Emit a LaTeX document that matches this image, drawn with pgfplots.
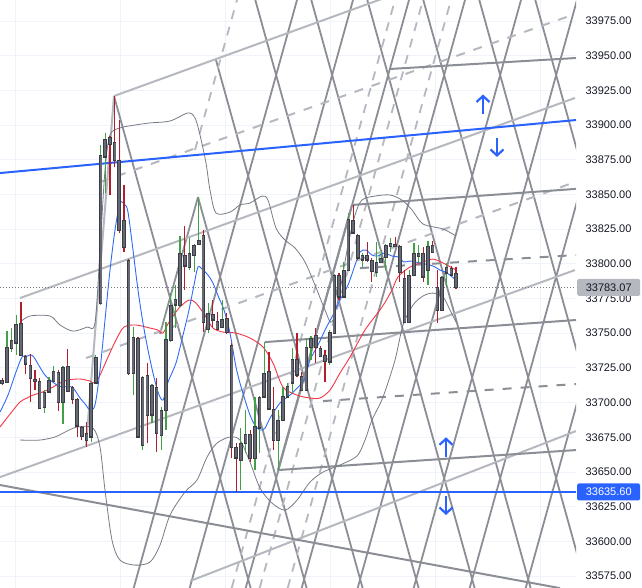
\documentclass[border=0pt]{standalone}
\usepackage{pgfplots}
\pgfplotsset{compat=1.18}
\usepackage{pgfplotstable}
\usepackage{fontspec}
\setmainfont{Liberation Sans}
\usetikzlibrary{arrows.meta}

\definecolor{tvblue}{HTML}{2962FF}
\definecolor{tvgrid}{HTML}{F0F3FA}
\definecolor{tvtext}{HTML}{131722}
\definecolor{lgray}{HTML}{B6B8C0}
\definecolor{dgray}{HTML}{8C8E96}
\definecolor{bbgray}{HTML}{787B86}
\definecolor{bodyfill}{HTML}{666972}
\definecolor{bodyedge}{HTML}{3A3D45}
\definecolor{upw}{HTML}{43A047}
\definecolor{dnw}{HTML}{B0202C}
\definecolor{mared}{HTML}{F23645}
\definecolor{mablue}{HTML}{2F6BF5}

% candles: x (time), open, high, low, close
\pgfplotstableread{
x o h l c
7.0 33714.8 33751.5 33714.1 33740.0
11.7 33739.3 33753.7 33736.4 33745.1
16.3 33742.9 33763.1 33734.3 33756.6
44.4 33696.8 33709.0 33692.5 33707.6
49.1 33707.6 33718.4 33706.9 33716.2
53.7 33715.5 33726.3 33714.8 33722.7
63.1 33700.4 33726.2 33684.5 33725.6
91.2 33675.2 33714.8 33671.6 33714.1
95.8 33714.1 33734.3 33713.4 33732.8
100.5 33771.7 33885.6 33770.3 33878.4
105.2 33876.9 33894.3 33851.0 33889.9
133.3 33721.3 33754.4 33705.4 33747.2
142.6 33669.4 33719.1 33665.8 33718.4
152.0 33691.0 33713.3 33685.2 33712.6
161.3 33676.6 33696.8 33665.8 33694.6
166.0 33694.6 33758.0 33680.2 33745.8
170.7 33745.1 33778.9 33743.6 33770.3
175.3 33770.3 33784.7 33753.7 33774.6
180.0 33770.3 33820.0 33768.8 33807.8
189.4 33797.7 33818.6 33795.5 33807.8
194.1 33806.3 33814.2 33794.1 33813.5
198.7 33814.2 33848.1 33813.5 33817.1
208.1 33752.3 33771.7 33750.1 33764.5
222.1 33754.4 33773.9 33753.8 33760.2
240.8 33658.6 33681.6 33637.0 33670.8
245.5 33670.8 33694.6 33663.6 33677.3
254.9 33660.0 33704.0 33651.4 33683.1
259.5 33681.6 33705.0 33663.6 33704.0
264.2 33704.0 33743.6 33703.0 33721.3
278.2 33673.0 33694.6 33651.4 33687.4
282.9 33687.4 33711.2 33686.5 33704.7
287.6 33704.0 33714.1 33703.3 33711.9
292.3 33714.1 33739.3 33706.9 33731.4
306.3 33709.0 33746.5 33708.2 33740.0
311.0 33740.0 33747.9 33730.6 33746.5
329.7 33729.2 33752.3 33727.0 33750.8
334.4 33750.1 33793.0 33749.5 33791.9
343.7 33776.1 33801.3 33775.5 33795.5
348.4 33795.5 33836.6 33795.0 33832.3
362.4 33802.7 33807.8 33797.7 33806.3
376.5 33794.1 33815.7 33790.5 33801.3
381.1 33801.3 33809.9 33800.5 33804.2
385.8 33804.9 33814.5 33795.5 33813.5
390.5 33812.8 33818.6 33808.5 33815.0
409.2 33758.0 33795.5 33757.3 33791.9
413.9 33791.9 33815.0 33791.0 33807.8
418.5 33805.6 33813.5 33800.6 33807.8
427.9 33795.5 33816.4 33784.7 33812.8
441.9 33766.7 33791.2 33766.0 33790.5
446.6 33793.4 33800.6 33783.3 33797.7
}\upc
\pgfplotstableread{
x o h l c
2.3 33716.2 33717.7 33712.6 33713.4
21.0 33757.3 33772.4 33733.5 33734.3
25.7 33733.5 33734.0 33720.6 33727.8
30.4 33727.0 33735.0 33700.4 33717.7
35.0 33717.0 33723.4 33709.0 33715.5
39.7 33715.5 33717.7 33695.5 33696.1
58.4 33722.0 33723.4 33693.9 33700.4
67.8 33726.3 33738.6 33707.6 33708.3
72.5 33711.2 33712.0 33698.9 33702.5
77.1 33702.5 33703.5 33675.2 33683.1
81.8 33682.4 33683.0 33673.0 33675.9
86.5 33678.0 33686.0 33667.9 33673.0
109.9 33891.4 33892.1 33849.6 33886.3
114.5 33887.8 33920.9 33869.7 33874.8
119.2 33874.8 33903.6 33822.2 33824.3
123.9 33831.5 33856.8 33808.5 33812.1
128.6 33802.7 33803.5 33719.8 33721.3
137.9 33746.5 33747.5 33674.5 33675.2
147.3 33719.8 33728.5 33670.8 33691.0
156.6 33711.2 33717.7 33664.3 33678.0
184.7 33806.3 33827.2 33781.1 33798.4
203.4 33820.7 33824.3 33750.8 33758.0
212.8 33763.8 33773.9 33754.4 33759.5
217.4 33758.8 33765.2 33752.4 33753.0
226.8 33760.9 33764.5 33749.6 33750.8
231.5 33741.5 33742.9 33660.0 33667.9
236.2 33667.9 33670.8 33635.6 33660.0
250.2 33677.3 33680.2 33657.1 33660.0
268.9 33722.7 33736.4 33694.5 33695.3
273.6 33695.3 33711.2 33665.8 33673.0
297.0 33731.4 33750.1 33718.4 33719.8
301.6 33719.1 33722.0 33708.0 33709.0
315.7 33748.7 33753.7 33728.5 33740.0
320.3 33739.3 33740.7 33732.8 33733.5
325.0 33734.3 33737.9 33714.8 33729.9
339.0 33791.9 33793.4 33773.9 33776.1
353.1 33831.5 33842.4 33821.5 33822.2
357.8 33820.7 33821.5 33802.7 33804.2
367.1 33806.3 33815.7 33801.3 33802.7
371.8 33802.7 33804.2 33786.9 33794.1
395.2 33814.2 33819.3 33812.1 33812.8
399.8 33812.8 33813.5 33786.9 33793.4
404.5 33789.7 33795.5 33757.0 33758.0
423.2 33807.8 33812.1 33786.9 33790.5
432.6 33813.5 33816.4 33808.0 33808.5
437.3 33783.3 33795.5 33757.3 33766.7
451.3 33797.0 33798.4 33791.2 33791.9
456.0 33793.4 33797.7 33781.8 33783.07
}\dnc

\pgfplotsset{
  wick/.style={only marks, mark options={draw opacity=0, fill opacity=0}, forget plot,
    error bars/.cd, y dir=plus, y explicit, error mark=none,
    error bar style={line width=1.2pt, color=#1}},
  body/.style 2 args={only marks, mark options={draw opacity=0, fill opacity=0}, forget plot,
    error bars/.cd, y dir=both, y explicit, error mark=none,
    error bar style={line width=#1, color=#2}},
  lat/.style={dgray, line width=1.8pt},
  latd/.style={lgray, line width=1.8pt, dash pattern=on 9pt off 8pt},
  arr/.style={tvblue, line width=2.2pt, -{Straight Barb[length=6pt,width=13pt]}},
}

\begin{document}
\begin{tikzpicture}
\begin{axis}[
  at={(0,0)}, anchor=south west,
  scale only axis, width=576pt, height=588pt,
  xmin=0, xmax=576, ymin=33566.4, ymax=33990.1,
  axis line style={draw=none},
  ytick={33575,33600,...,33975},
  scaled y ticks=false,
  yticklabel pos=right,
  xtick={15,120,225,330,435,540}, xticklabels={},
  major tick length=0pt,
  xmajorgrids, ymajorgrids,
  grid style={tvgrid, line width=0.8pt},
  yticklabel style={anchor=west, xshift=6pt, text=tvtext,
    font=\fontsize{11}{13}\selectfont,
    /pgf/number format/fixed, /pgf/number format/fixed zerofill,
    /pgf/number format/precision=2, /pgf/number format/1000 sep={},
    /pgf/number format/assume math mode=true},
]

% steep lattice, descending lines
\addplot[lat] coordinates {(114,33920.9) (250.6,33566.4)};
\addplot[lat] coordinates {(198,33848.1) (306.6,33566.4)};
\addplot[lat] coordinates {(215.8,33947.3) (362.6,33566.4)};
\addplot[lat] coordinates {(255.3,33990.1) (418.6,33566.4)};
\addplot[lat] coordinates {(311.3,33990.1) (474.6,33566.4)};
\addplot[lat] coordinates {(367.3,33990.1) (530.6,33566.4)};
\addplot[lat] coordinates {(423.3,33990.1) (586.6,33566.4)};
\addplot[lat] coordinates {(479.3,33990.1) (642.6,33566.4)};
\addplot[lat] coordinates {(535.3,33990.1) (698.6,33566.4)};
% steep lattice, ascending lines
\addplot[lat] coordinates {(133.7,33566.4) (297,33990.1)};
\addplot[lat] coordinates {(189.7,33566.4) (353,33990.1)};
\addplot[lat] coordinates {(245.7,33566.4) (409,33990.1)};
\addplot[lat] coordinates {(301.7,33566.4) (465,33990.1)};
\addplot[lat] coordinates {(357.7,33566.4) (521,33990.1)};
\addplot[lat] coordinates {(413.7,33566.4) (577,33990.1)};
\addplot[lat] coordinates {(469.7,33566.4) (633,33990.1)};
\addplot[lat] coordinates {(525.7,33566.4) (689,33990.1)};
\addplot[lat] coordinates {(198,33848.1) (160,33749.4)};
% dashed steep lines
\addplot[latd] coordinates {(195,33882.0) (237,33990.1)};
\addplot[latd] coordinates {(231.7,33566.4) (395,33990.1)};
\addplot[latd] coordinates {(259.7,33566.4) (423,33990.1)};
\addplot[latd] coordinates {(287.7,33566.4) (451,33990.1)};

% shallow rising channel (light gray)
\addplot[lgray, line width=2pt] coordinates {(114,33920.9) (390,33993)};
\addplot[lgray, line width=2pt, dash pattern=on 9pt off 9pt] coordinates {(100,33858.9) (575,33980.0)};
\addplot[lgray, line width=2pt] coordinates {(20,33775.3) (575,33919.5)};
\addplot[lgray, line width=2pt, dash pattern=on 9pt off 9pt] coordinates {(86,33732.1) (575,33858.9)};
\addplot[lgray, line width=2pt] coordinates {(0,33646.3) (575,33795.5)};
\addplot[lgray, line width=2pt] coordinates {(190,33571.4) (576,33679.5)};
\addplot[lgray, line width=2pt] coordinates {(86,33668.7) (114,33920.9)};

% near-horizontal channel (dark gray) from the swing low
\addplot[dgray, line width=2pt] coordinates {(265,33743.6) (576,33759.5)};
\addplot[dgray, line width=2pt] coordinates {(278,33651.4) (576,33665.8)};
\addplot[dgray, line width=2pt] coordinates {(352,33842.4) (576,33854.0)};
\addplot[dgray, line width=2pt] coordinates {(390,33940.4) (576,33948.3)};
\addplot[dgray, line width=2pt, dash pattern=on 9pt off 9pt] coordinates {(323,33701.1) (576,33713.4)};
\addplot[dgray, line width=2pt, dash pattern=on 9pt off 9pt] coordinates {(360,33796.9) (576,33806.3)};
\addplot[dgray, line width=2pt] coordinates {(0,33640.6) (560,33566.3)};
\addplot[dgray, line width=2pt] coordinates {(278,33651.4) (352,33842.4)};

% Bollinger bands
\addplot[bbgray, line width=0.8pt, smooth] coordinates {
(20,33758.0) (30,33762.4) (50,33762.4) (60,33755.9) (73,33751.5) (87,33754.4)
(95,33757.3) (100,33809.9) (105,33867.6) (110,33892.8) (120,33897.9) (135,33900.0)
(150,33901.5) (170,33902.9) (188,33908.7) (195,33905.1) (200,33892.8) (206,33872.6)
(210,33853.2) (216,33836.6) (230,33837.3) (240,33842.4) (250,33843.8) (262,33848.8)
(268,33845.9) (276,33825.8) (285,33817.1) (295,33811.4) (305,33801.3) (315,33784.7)
(325,33766.7) (332,33758.0) (340,33781.1) (348,33813.5) (355,33835.1) (362,33846.0)
(375,33848.8) (390,33849.6) (402,33845.9) (412,33838.8) (423,33828.7) (443,33825.1)
(456,33820.0)};
\addplot[bbgray, line width=0.8pt, smooth] coordinates {
(20,33673.0) (40,33673.0) (55,33675.2) (63,33678.0) (77,33682.4) (93,33681.6)
(100,33667.9) (105,33637.0) (112,33600.9) (120,33586.5) (135,33582.9) (150,33585.1)
(160,33597.3) (170,33618.9) (185,33635.6) (197,33644.2) (207,33660.7) (217,33670.8)
(230,33675.2) (240,33673.0) (250,33657.1) (260,33638.4) (272,33627.6) (285,33622.5)
(297,33629.7) (310,33642.7) (323,33649.9) (340,33655.0) (357,33661.5) (365,33673.0)
(372,33687.4) (383,33704.0) (395,33730.6) (403,33755.9) (413,33770.3) (423,33776.8)
(433,33778.9) (443,33776.1) (450,33766.7) (456,33758.0)};

% moving averages
\addplot[mared, line width=0.9pt, smooth] coordinates {
(0,33682.4) (10,33691.7) (20,33700.4) (27,33703.3) (33,33705.4) (40,33706.9)
(47,33709.0) (53,33711.2) (60,33714.1) (67,33716.2) (80,33717.0) (90,33715.5)
(95,33714.1) (100,33719.8) (108,33732.8) (116,33745.1) (124,33754.4) (136,33755.9)
(150,33753.7) (158,33752.3) (163,33750.1) (169,33758.0) (179,33768.1) (189,33773.9)
(196,33771.7) (206,33761.6) (213,33753.7) (223,33750.8) (236,33750.1) (250,33746.5)
(263,33740.0) (273,33728.5) (283,33711.2) (297,33705.4) (310,33703.3) (320,33703.3)
(330,33709.0) (340,33721.3) (350,33732.8) (365,33752.3) (382,33768.8) (392,33781.1)
(398,33790.5) (410,33797.7) (423,33801.3) (433,33803.4) (443,33800.6) (456,33795.5)};
\addplot[mablue, line width=0.9pt, smooth] coordinates {
(0,33693.2) (8,33705.4) (16,33722.0) (22,33732.8) (27,33733.5) (33,33733.5)
(45,33719.8) (57,33712.6) (62,33711.2) (72,33711.2) (80,33703.3) (86,33698.2)
(90,33694.6) (95,33698.2) (100,33723.4) (105,33759.5) (110,33795.5) (115,33824.3)
(120,33843.8) (125,33842.4) (128,33837.3) (133,33809.9) (138,33781.1) (143,33757.3)
(148,33737.9) (153,33721.3) (158,33707.6) (163,33701.8) (168,33714.8) (176,33728.5)
(183,33748.7) (189,33766.7) (194,33784.7) (198,33797.7) (203,33795.5) (208,33791.9)
(213,33786.1) (219,33775.3) (224,33766.7) (230,33750.1) (236,33725.6) (242,33709.0)
(250,33691.0) (255,33683.8) (260,33680.2) (265,33681.6) (270,33688.8) (280,33699.7)
(290,33705.4) (300,33712.6) (305,33717.7) (310,33730.6) (318,33741.5) (326,33753.7)
(333,33763.1) (340,33773.9) (348,33784.7) (355,33799.1) (360,33808.5) (366,33809.9)
(372,33806.3) (378,33805.6) (384,33807.8) (392,33805.6) (398,33804.9) (404,33801.3)
(410,33802.0) (420,33800.6) (433,33798.4) (440,33795.5) (447,33793.4) (456,33788.3)};

% blue drawings
\addplot[tvblue, line width=2pt] coordinates {(0,33865.4) (576,33903.6)};
\addplot[tvblue, line width=1.4pt] coordinates {(0,33635.6) (576,33635.6)};
\addplot[bbgray, line width=0.8pt, dash pattern=on 1pt off 2pt] coordinates {(0,33783.07) (576,33783.07)};

% candles
\addplot[wick=upw] table[x=x, y=l, y error expr={\thisrow{h}-\thisrow{l}}] {\upc};
\addplot[wick=dnw] table[x=x, y=l, y error expr={\thisrow{h}-\thisrow{l}}] {\dnc};
\addplot[body={3.6pt}{bodyedge}] table[x=x, y expr={(\thisrow{o}+\thisrow{c})/2},
  y error expr={abs(\thisrow{c}-\thisrow{o})/2+0.35}] {\upc};
\addplot[body={3.6pt}{bodyedge}] table[x=x, y expr={(\thisrow{o}+\thisrow{c})/2},
  y error expr={abs(\thisrow{c}-\thisrow{o})/2+0.35}] {\dnc};
\addplot[body={2.0pt}{bodyfill}] table[x=x, y expr={(\thisrow{o}+\thisrow{c})/2},
  y error expr={max(abs(\thisrow{c}-\thisrow{o})/2-0.45,0)}] {\upc};
\addplot[body={2.0pt}{bodyfill}] table[x=x, y expr={(\thisrow{o}+\thisrow{c})/2},
  y error expr={max(abs(\thisrow{c}-\thisrow{o})/2-0.45,0)}] {\dnc};

% arrows
\addplot[arr] coordinates {(483,33908.0) (483,33922.0)};
\addplot[arr] coordinates {(497,33891.0) (497,33877.0)};
\addplot[arr] coordinates {(446,33661.0) (446,33675.0)};
\addplot[arr] coordinates {(446,33633.0) (446,33619.0)};

\coordinate (pl) at (axis cs:576,33783.07);
\coordinate (bl) at (axis cs:576,33635.6);
\end{axis}
\node[fill=lgray, text=tvtext, anchor=west, minimum width=63pt, minimum height=17pt,
  inner sep=0pt, rounded corners=1.5pt, font=\fontsize{11}{13}\selectfont] at ([xshift=1pt]pl) {33783.07};
\node[fill=tvblue, text=white, anchor=west, minimum width=63pt, minimum height=17pt,
  inner sep=0pt, rounded corners=1.5pt, font=\fontsize{11}{13}\selectfont] at ([xshift=1pt]bl) {33635.60};
\pgfresetboundingbox
\path[use as bounding box] (0,0) rectangle (642pt,588pt);
\end{tikzpicture}
\end{document}
